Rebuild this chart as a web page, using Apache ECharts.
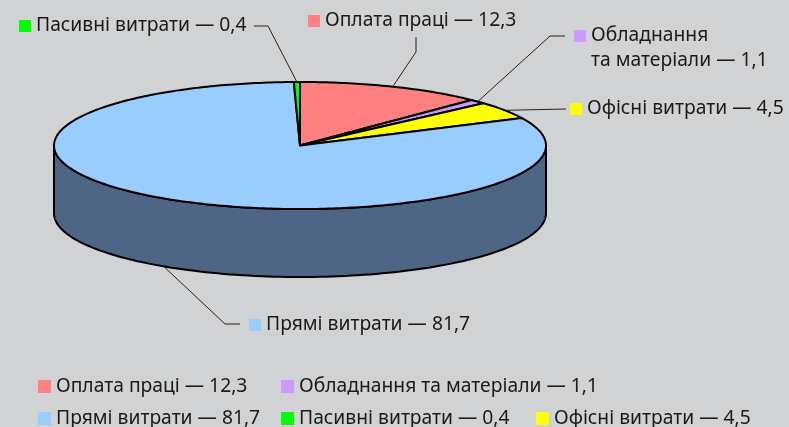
<!DOCTYPE html>
<html><head><meta charset="utf-8">
<style>html,body{margin:0;padding:0;background:#d1d2d4}#c{width:789px;height:427px}</style>
<script src="https://cdn.jsdelivr.net/npm/echarts@6/dist/echarts.min.js"></script>
</head><body><div id="c"></div>
<script>
const categories = ['Оплата праці','Обладнання та матеріали','Офісні витрати','Прямі витрати','Пасивні витрати'];
const values = [12.3, 1.1, 4.5, 81.7, 0.4];
const valueLabels = ['12,3','1,1','4,5','81,7','0,4'];
const colours = ['#ff8080','#cc99ff','#ffff00','#99ccff','#00ff00'];
const wallColour = '#4f6585';
const FONT = '"Noto Sans"';
const FS = 19.3;
const depth = 1.07;
const total = values.reduce((a,b)=>a+b,0);
const legendName = i => categories[i] + ' — ' + valueLabels[i];
const callouts = [
  {line:[[416,52],[416,37]], box:[308,15], text:[[325,21,'Оплата праці — 12,3']]},
  {line:[[550,36],[565,36]], box:[574,30], text:[[591,36,'Обладнання'],[591,61,'та матеріали — 1,1']]},
  {line:[[566,109]], box:[570,103], text:[[587,109,'Офісні витрати — 4,5']]},
  {line:[[225,324],[240,324]], box:[249,319], nudge:0.006, text:[[266,325,'Прямі витрати — 81,7']]},
  {line:[[268,26],[254,26]], box:[19,20], text:[[36,26,'Пасивні витрати — 0,4']]}
];
const legendSlots = [[0,38,377],[1,281,377],[3,38,409],[4,281,409],[2,536,409]];
function pt(api, frac, yShift){
  const a = frac*2*Math.PI;
  return api.coord([Math.sin(a), Math.cos(a)-(yShift||0)]);
}
function renderSlice(i){
  const start = values.slice(0,i).reduce((a,b)=>a+b,0)/total;
  const end = start + values[i]/total;
  return function(params, api){
    const n = Math.max(2, Math.ceil(values[i]*4));
    const rim = [];
    for(let k=0;k<=n;k++) rim.push(start+(end-start)*k/n);
    const topPts = [api.coord([0,0])].concat(rim.map(f=>pt(api,f)));
    const children = [];
    const wallFrom = Math.max(start,0.25), wallTo = Math.min(end,0.75);
    if(wallTo>wallFrom){
      const w=[]; const m=120;
      for(let k=0;k<=m;k++) w.push(pt(api,wallFrom+(wallTo-wallFrom)*k/m));
      for(let k=m;k>=0;k--) w.push(pt(api,wallFrom+(wallTo-wallFrom)*k/m,depth));
      children.push({type:'polygon',z2:1,shape:{points:w},style:{fill:wallColour,stroke:'#000',lineWidth:2,lineJoin:'round'}});
    }
    children.push({type:'polygon',z2:2,shape:{points:topPts},style:{fill:colours[i],stroke:'#000',lineWidth:2,lineJoin:'round'}});
    return {type:'group',children};
  };
}
function renderCallout(i){
  const start = values.slice(0,i).reduce((a,b)=>a+b,0)/total;
  const c = callouts[i];
  const mid = start + values[i]/total/2 + (c.nudge||0);
  return function(params, api){
    const onWall = mid>0.25 && mid<0.75;
    const anchor = pt(api, mid, onWall?depth:0);
    const kids = [{type:'polyline',shape:{points:[anchor].concat(c.line)},style:{stroke:'#222',lineWidth:1,fill:null}}];
    kids.push({type:'rect',shape:{x:c.box[0],y:c.box[1],width:12,height:12},style:{fill:colours[i]}});
    c.text.forEach(t=>kids.push({type:'text',style:{x:t[0],y:t[1],text:t[2],font:FS+'px '+FONT,fill:'#1a1a1a',verticalAlign:'middle'}}));
    return {type:'group',children:kids};
  };
}
const sliceSeries = categories.map((c,i)=>({
  type:'custom',name:legendName(i),coordinateSystem:'cartesian2d',silent:true,z:2,
  itemStyle:{color:colours[i]},data:[[0,0]],clip:false,renderItem:renderSlice(i),animation:false
}));
const calloutSeries = categories.map((c,i)=>({
  type:'custom',name:'callout'+i,coordinateSystem:'cartesian2d',silent:true,z:3,
  data:[[0,0]],clip:false,renderItem:renderCallout(i),animation:false
}));
const chart = echarts.init(document.getElementById('c'),null,{renderer:'canvas'});
chart.setOption({
  backgroundColor:'#d1d2d4',animation:false,
  grid:{left:54,width:492,top:82,height:195},
  xAxis:{type:'value',min:-1,max:1,show:false},
  yAxis:{type:'value',min:-1-depth,max:1,show:false},
  legend:legendSlots.map(s=>({left:s[1],top:s[2],data:[legendName(s[0])],icon:'rect',itemWidth:13,itemHeight:13,padding:0,selectedMode:false,
    textStyle:{fontFamily:FONT,fontSize:FS,color:'#1a1a1a'}})),
  series:sliceSeries.concat(calloutSeries)
});
</script></body></html>
